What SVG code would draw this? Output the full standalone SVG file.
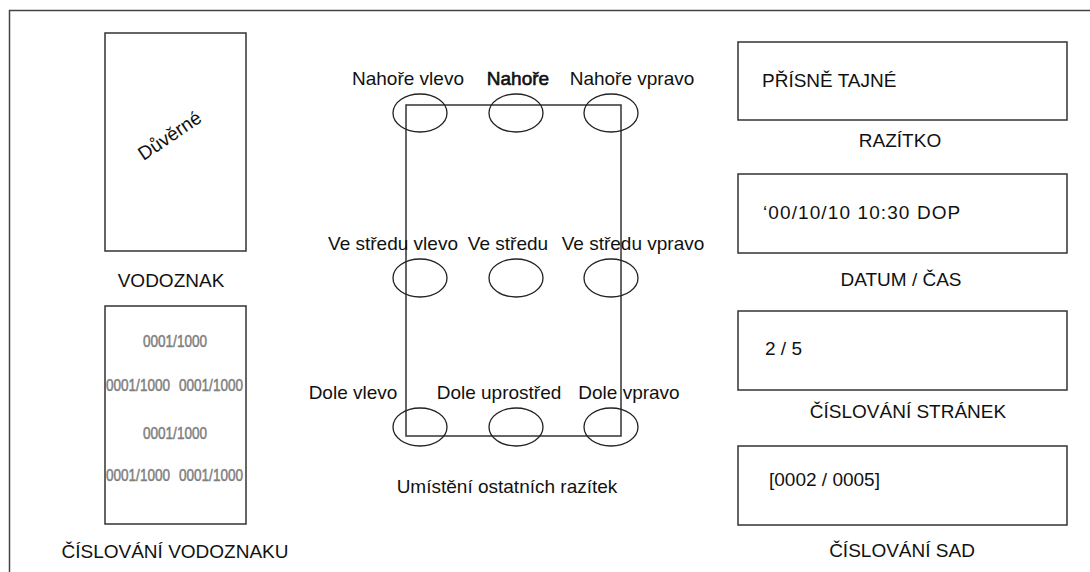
<svg xmlns="http://www.w3.org/2000/svg" width="1090" height="572" viewBox="0 0 1090 572">
<style>
.frame{fill:none;stroke:#444;stroke-width:1.5}
.box{fill:#fff;stroke:#333;stroke-width:1.5}
.ell{fill:none;stroke:#222;stroke-width:1.3}
.t{font-family:"Liberation Sans",Arial,sans-serif;font-size:19px;fill:#111}
.m{text-anchor:middle}
.g{font-family:"Liberation Sans",Arial,sans-serif;font-size:16.5px;fill:#808080;text-anchor:middle;stroke:#808080;stroke-width:0.5}
</style>
<rect width="1090" height="572" fill="#fff"/>
<path class="frame" d="M9.5 580 V10.5 H1100"/>
<g id="vodoznak">
<rect class="box" x="105" y="33" width="141" height="218"/>
<text class="t" font-size="17" text-anchor="middle" transform="translate(170,136) rotate(-34)" dy="6">Důvěrné</text>
<text class="t m" x="171" y="287">VODOZNAK</text>
</g>
<g id="cislovani-vodoznaku">
<rect class="box" x="105" y="306" width="141" height="218"/>
<text class="g" x="175" y="347" textLength="64" lengthAdjust="spacingAndGlyphs">0001/1000</text>
<text class="g" x="138" y="391" textLength="64" lengthAdjust="spacingAndGlyphs">0001/1000</text>
<text class="g" x="211" y="391" textLength="64" lengthAdjust="spacingAndGlyphs">0001/1000</text>
<text class="g" x="175" y="439" textLength="64" lengthAdjust="spacingAndGlyphs">0001/1000</text>
<text class="g" x="138" y="481" textLength="64" lengthAdjust="spacingAndGlyphs">0001/1000</text>
<text class="g" x="211" y="481" textLength="64" lengthAdjust="spacingAndGlyphs">0001/1000</text>
<text class="t m" x="175" y="558">ČÍSLOVÁNÍ VODOZNAKU</text>
</g>
<g id="umisteni">
<rect class="box" x="406" y="105" width="215" height="331"/>
<ellipse class="ell" cx="420" cy="113" rx="27" ry="19"/>
<ellipse class="ell" cx="516" cy="113" rx="27" ry="19"/>
<ellipse class="ell" cx="611" cy="113" rx="27" ry="19"/>
<ellipse class="ell" cx="420" cy="278" rx="27" ry="19"/>
<ellipse class="ell" cx="516" cy="278" rx="27" ry="19"/>
<ellipse class="ell" cx="611" cy="278" rx="27" ry="19"/>
<ellipse class="ell" cx="420" cy="427" rx="27" ry="19"/>
<ellipse class="ell" cx="516" cy="427" rx="27" ry="19"/>
<ellipse class="ell" cx="611" cy="427" rx="27" ry="19"/>
<text class="t m" x="408" y="85">Nahoře vlevo</text>
<text class="t m" x="518" y="85" stroke="#111" stroke-width="0.6">Nahoře</text>
<text class="t m" x="632" y="85">Nahoře vpravo</text>
<text class="t m" x="393" y="250">Ve středu vlevo</text>
<text class="t m" x="508" y="250">Ve středu</text>
<text class="t m" x="633" y="250">Ve středu vpravo</text>
<text class="t m" x="353" y="399">Dole vlevo</text>
<text class="t m" x="499" y="399">Dole uprostřed</text>
<text class="t m" x="629" y="399">Dole vpravo</text>
<text class="t m" x="507" y="493">Umístění ostatních razítek</text>
</g>
<g id="razitko">
<rect class="box" x="738" y="42" width="329" height="78"/>
<text class="t" x="762" y="87">PŘÍSNĚ TAJNÉ</text>
<text class="t m" x="900" y="147">RAZÍTKO</text>
</g>
<g id="datum-cas">
<rect class="box" x="738" y="174" width="329" height="79"/>
<text class="t" x="763" y="219" letter-spacing="1.1">‘00/10/10 10:30 DOP</text>
<text class="t m" x="901" y="286">DATUM / ČAS</text>
</g>
<g id="cislovani-stranek">
<rect class="box" x="738" y="311" width="329" height="79"/>
<text class="t" x="765" y="355">2 / 5</text>
<text class="t m" x="908" y="418">ČÍSLOVÁNÍ STRÁNEK</text>
</g>
<g id="cislovani-sad">
<rect class="box" x="738" y="446" width="329" height="79"/>
<text class="t" x="769" y="486">[0002 / 0005]</text>
<text class="t m" x="902" y="557">ČÍSLOVÁNÍ SAD</text>
</g>
<g id="connectors"/>
</svg>
